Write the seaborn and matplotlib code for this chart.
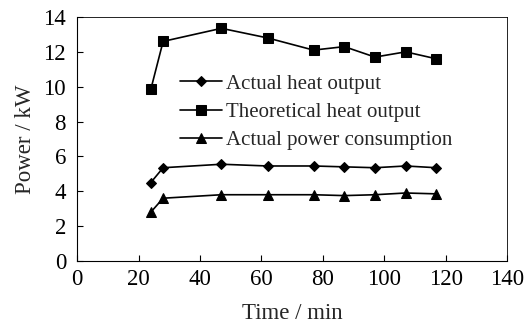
import matplotlib
matplotlib.use("Agg")
import matplotlib.pyplot as plt
import seaborn as sns
import pandas as pd

time_min = [24, 28, 47, 62, 77, 87, 97, 107, 117]
actual_heat = [4.5, 5.35, 5.55, 5.45, 5.45, 5.4, 5.35, 5.45, 5.35]
theoretical_heat = [9.85, 12.6, 13.35, 12.8, 12.1, 12.3, 11.7, 12.0, 11.6]
actual_power = [2.8, 3.6, 3.8, 3.8, 3.8, 3.75, 3.8, 3.9, 3.85]
series_names = ["Actual heat output", "Theoretical heat output", "Actual power consumption"]
x_ticks = [0, 20, 40, 60, 80, 100, 120, 140]
y_ticks = [0, 2, 4, 6, 8, 10, 12, 14]

sns.set_theme(style="ticks")
plt.rcParams['font.family'] = ['Liberation Serif', 'DejaVu Serif']

df = pd.DataFrame({
    "Time": time_min * 3,
    "Power": actual_heat + theoretical_heat + actual_power,
    "Series": [series_names[0]] * len(time_min) + [series_names[1]] * len(time_min) + [series_names[2]] * len(time_min),
})

fig = plt.figure(figsize=(5.32, 3.27), dpi=100)
ax = fig.add_axes([0.145, 0.202, 0.808, 0.746])

sns.lineplot(data=df, x="Time", y="Power", hue="Series", style="Series",
             palette=["black"] * 3, markers=["D", "s", "^"], dashes=False,
             markersize=6, linewidth=1.2, markeredgecolor="black",
             ax=ax, legend=True)
sizes = [5, 6.5, 7]
for line, ms in zip(ax.lines[:3], sizes):
    line.set_markersize(ms)

ax.set_xlim(0, 140)
ax.set_ylim(0, 14)
ax.set_xticks(x_ticks)
ax.set_yticks(y_ticks)
ax.tick_params(direction="in", length=4, width=0.8, labelsize=16.5, colors="black")
ax.tick_params(axis="x", pad=6)
ax.tick_params(axis="y", pad=8)
for name, s in ax.spines.items():
    s.set_linewidth(0.8 if name in ("left", "bottom") else 0.6)
    s.set_color("black")
ax.set_xlabel("Time / min", fontsize=16.5, labelpad=9)
ax.set_ylabel("Power / kW", fontsize=16.5, labelpad=5.5)

handles, labels = ax.get_legend_handles_labels()
for h, ms in zip(handles, sizes):
    h.set_markersize(ms)
leg = ax.legend(handles, labels, loc="upper left", bbox_to_anchor=(0.22, 0.80),
                frameon=False, fontsize=15, handlelength=2.0, handletextpad=0.2,
                labelspacing=0.42, borderaxespad=0)

fig.savefig("out.png", dpi=100, facecolor="white")
